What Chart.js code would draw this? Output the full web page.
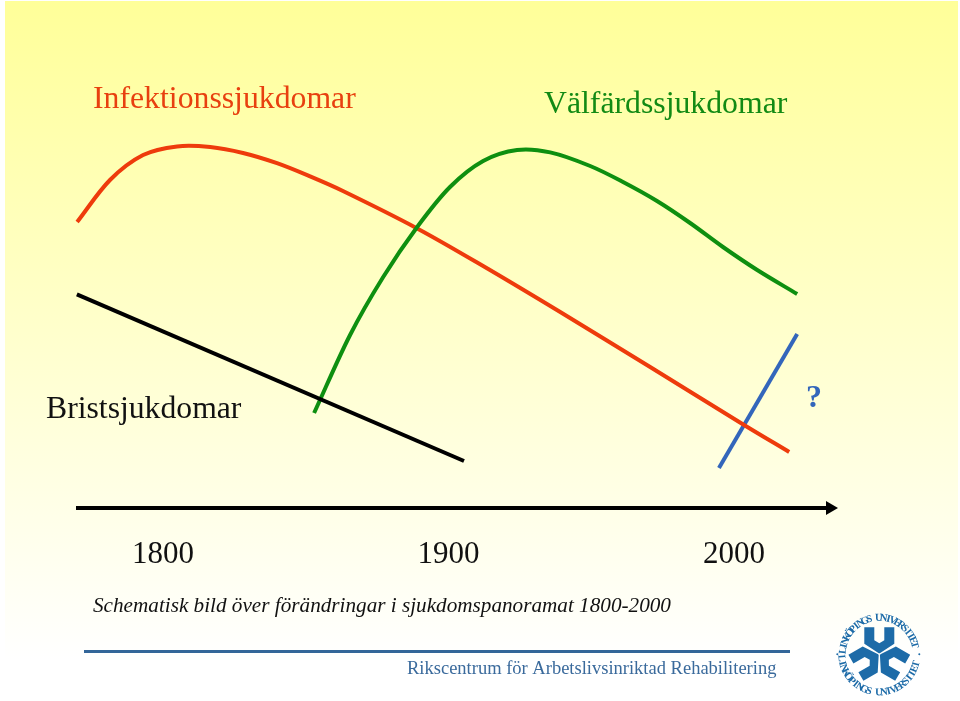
<!DOCTYPE html>
<html><head><meta charset="utf-8">
<style>html,body{margin:0;padding:0;background:#fff;overflow:hidden}#w{position:absolute;left:0;top:0;width:960px;height:701px}</style>
<script src="https://cdn.jsdelivr.net/npm/chart.js@4"></script>
</head><body><div id="w"><canvas id="c" width="960" height="701"></canvas></div>
<script>
const tickYears=[1800,1900,2000];
const infektionX=[1769.9,1781.4,1793.0,1804.9,1816.5,1828,1839.9,1851.5,1863,1889,1912.1,1939.1,1970.6,2003.5,2019.3];
const infektionY=[71.5,82,88.25,90.4,90.25,88.75,86.2,82.9,79.25,69.9,60.5,49,35.25,20.75,14];
const valfardX=[1852.9,1865.5,1877.1,1889,1900.5,1912.1,1924,1935.6,1949.6,1961.1,1973,1984.6,1996.1,2008.1,2022.1];
const valfardY=[23.75,43.25,57.75,70.25,80.25,86.75,89.5,88.9,85.5,81.5,76.75,71.25,65.25,59.5,53.5];
const bristX=[1769.8,1905.4];
const bristY=[53.4,11.75];
const framtidX=[1994.7,2022.1];
const framtidY=[10,43.5];
const axelX=[1769.5,2033.6];
const axelY=[0,0];
const zip=(a,b)=>a.map((x,i)=>({x,y:b[i]}));
const RED='#EE3B0C',GREEN='#0E8F10',BLUE='#3366BB';
const SERIF='"Liberation Serif","Times New Roman",serif';

const deco={id:'deco',
 beforeDraw(ch){const c=ch.ctx;c.save();
  const g=c.createLinearGradient(0,1,0,660);
  g.addColorStop(0,'#FFFF99');g.addColorStop(1,'#FFFFFF');
  c.fillStyle='#fff';c.fillRect(0,0,960,701);
  c.fillStyle=g;c.fillRect(5,1,953,700);
  c.restore();},
 afterDraw(ch){const c=ch.ctx;c.save();
  const t=(s,x,y,font,col)=>{c.font=font;c.fillStyle=col;c.textAlign='left';c.textBaseline='alphabetic';c.fillText(s,x,y);};
  t('Infektionssjukdomar',93,108,'31.75px '+SERIF,'#E8400F');
  t('Välfärdssjukdomar',544,113,'31.75px '+SERIF,'#128A14');
  t('Bristsjukdomar',46,418,'31.7px '+SERIF,'#111');
  t('?',806,407,'bold 32px '+SERIF,BLUE);
  t('Schematisk bild över förändringar i sjukdomspanoramat 1800-2000',93,612,'italic 21.2px '+SERIF,'#111');
  t('Rikscentrum för Arbetslivsinriktad Rehabilitering',407,674,'18.5px '+SERIF,'#3A6A9C');
  c.fillStyle='#336699';c.fillRect(84,650,706,3);
  // logo
  const cx=879.3,cy=654.3,col='#1D6BA8';
  c.translate(cx,cy);
  for(let k=0;k<3;k++){c.save();c.rotate(k*2*Math.PI/3);c.fillStyle=col;c.beginPath();
   [[-15,-27],[-5,-27],[-5,-14],[0,-11],[5,-14],[5,-27],[15,-27],[15,-10.5],[0.5,-1],[-0.5,-1],[-15,-10.5]].forEach((p,i)=>i?c.lineTo(p[0],p[1]):c.moveTo(p[0],p[1]));
   c.closePath();c.fill();c.restore();}
  const word='LINKÖPINGS UNIVERSITET';
  c.fillStyle=col;c.font='bold 10.5px '+SERIF;c.textAlign='center';c.textBaseline='alphabetic';
  const n=word.length;
  for(let i=0;i<n;i++){const a=(-84+i*(159/(n-1)))*Math.PI/180;
   c.save();c.rotate(a);c.translate(0,-33.5);c.fillText(word[i],0,0);c.restore();}
  for(let i=0;i<n;i++){const a=(84-i*(159/(n-1)))*Math.PI/180;
   c.save();c.rotate(a);c.translate(0,41);c.fillText(word[i],0,0);c.restore();}
  c.beginPath();c.arc(-42,0,1,0,7);c.arc(40,0,1,0,7);c.fill();
  c.restore();}
};
const line=(label,data,color,extra)=>Object.assign({label,data,borderColor:color,backgroundColor:color,borderWidth:4,pointRadius:0,tension:0.33,clip:false,borderCapStyle:'butt'},extra||{});
new Chart(document.getElementById('c'),{
 type:'line',
 data:{datasets:[
  line('Tidsaxel',zip(axelX,axelY),'#000',{pointStyle:'triangle',rotation:90,pointRadius:[0,8],pointBorderWidth:0,tension:0}),
  line('Bristsjukdomar',zip(bristX,bristY),'#000',{tension:0}),
  line('Välfärdssjukdomar',zip(valfardX,valfardY),GREEN),
  line('Infektionssjukdomar',zip(infektionX,infektionY),RED),
  line('?',zip(framtidX,framtidY),BLUE,{tension:0})
 ]},
 plugins:[deco],
 options:{responsive:false,animation:false,devicePixelRatio:1,
  layout:{autoPadding:false,padding:{left:76,right:122,top:0,bottom:133}},
  plugins:{legend:{display:false},title:{display:false},tooltip:{enabled:false}},
  scales:{
   x:{type:'linear',min:1769.5,max:2036.4,
    afterBuildTicks(s){s.ticks=tickYears.map(v=>({value:v}));},
    afterFit(s){s.height=60;s.paddingLeft=0;s.paddingRight=0;},
    grid:{display:false,drawTicks:false},border:{display:false},
    ticks:{color:'#111',font:{family:SERIF,size:31},padding:28,maxRotation:0,autoSkip:false,callback:v=>String(v)}},
   y:{type:'linear',min:0,max:127,display:false}
  }}
});
</script></body></html>
